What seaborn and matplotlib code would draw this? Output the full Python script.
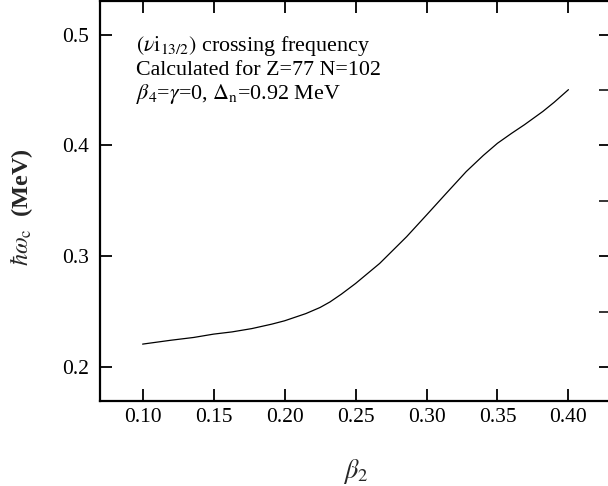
import matplotlib
matplotlib.use("Agg")
import matplotlib.pyplot as plt
from matplotlib.ticker import FixedLocator
import seaborn as sns
import pandas as pd

# ---- data ----
beta2 = [0.100, 0.120, 0.136, 0.150, 0.163, 0.177, 0.191, 0.200, 0.215, 0.225,
         0.232, 0.240, 0.250, 0.267, 0.286, 0.300, 0.314, 0.328, 0.340, 0.350,
         0.360, 0.369, 0.382, 0.390, 0.400]
hw_c = [0.221, 0.2245, 0.227, 0.230, 0.232, 0.235, 0.239, 0.242, 0.2485, 0.254,
        0.259, 0.266, 0.2756, 0.2937, 0.3178, 0.3373, 0.357, 0.3765, 0.391, 0.402,
        0.411, 0.4187, 0.4307, 0.439, 0.4503]
x_ticks = [0.10, 0.15, 0.20, 0.25, 0.30, 0.35, 0.40]
x_tick_labels = ["0.10", "0.15", "0.20", "0.25", "0.30", "0.35", "0.40"]
y_ticks = [0.2, 0.3, 0.4, 0.5]
y_tick_labels = ["0.2", "0.3", "0.4", "0.5"]
y_minor_ticks = [0.25, 0.35, 0.45]
annot_lines = [r"$(\nu\mathrm{i}_{13/2})$ crossing frequency",
               "Calculated for Z=77 N=102",
               r"$\beta_4$=$\gamma$=0, $\Delta_{\rm n}$=0.92 MeV"]

df = pd.DataFrame({"beta2": beta2, "hw": hw_c})

sns.set_style("ticks")
plt.rcParams["font.family"] = ["Liberation Serif", "DejaVu Serif"]
plt.rcParams["mathtext.fontset"] = "stix"

fig = plt.figure(figsize=(6.08, 4.86), dpi=100)
ax = fig.add_axes([0.1645, 0.1755, 0.8405, 0.822])

sns.lineplot(data=df, x="beta2", y="hw", ax=ax, color="black", linewidth=0.9)

ax.set_xlim(0.07, 0.43)
ax.set_ylim(0.17, 0.53)

ax.xaxis.set_major_locator(FixedLocator(x_ticks))
ax.set_xticklabels(x_tick_labels)
ax.yaxis.set_major_locator(FixedLocator(y_ticks))
ax.set_yticklabels(y_tick_labels)
ax.yaxis.set_minor_locator(FixedLocator(y_minor_ticks))

for s in ax.spines.values():
    s.set_linewidth(1.6)
    s.set_color("black")

ax.tick_params(which="major", direction="in", length=8.5, width=1.3,
               top=True, right=True, bottom=True, left=True,
               labelsize=15.5, colors="black")
ax.tick_params(axis="x", which="major", pad=5)
ax.tick_params(axis="y", which="major", pad=8)
ax.tick_params(axis="y", which="minor", direction="in", length=8.5, width=1.3,
               left=False, right=True)

ax.set_xlabel(r"$\beta_2$", fontsize=19, va="center")
ax.xaxis.set_label_coords(0.5, -0.176)
ax.set_ylabel(r"$\hbar\omega_{\rm c}$  (MeV)", fontsize=17.5,
              fontweight="bold", va="center")
ax.yaxis.set_label_coords(-0.153, 0.485)

ys = [0.875, 0.815, 0.755]
for txt, yy in zip(annot_lines, ys):
    ax.text(0.0705, yy, txt, transform=ax.transAxes, fontsize=15.8,
            ha="left", va="baseline", color="black")

fig.savefig("out.png", dpi=100)
